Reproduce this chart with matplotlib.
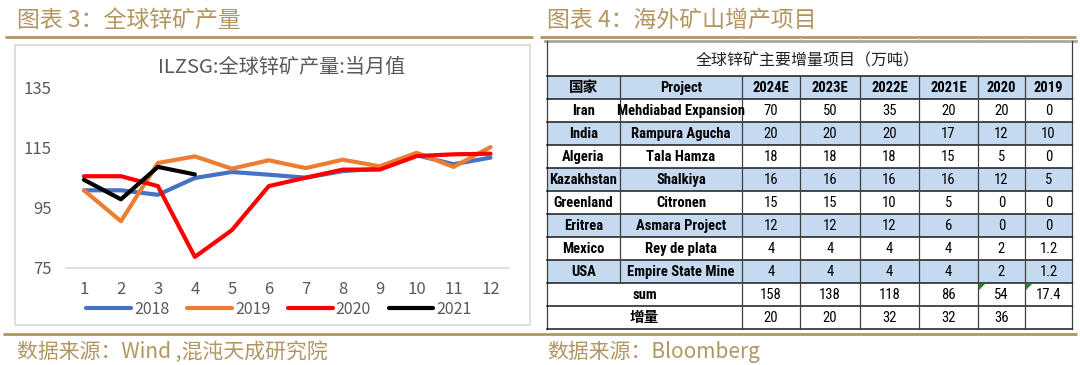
import matplotlib
matplotlib.use('Agg')
import matplotlib.pyplot as plt
from matplotlib import font_manager
from matplotlib.patches import Rectangle, Polygon

plt.rcParams['font.family'] = ['Noto Sans CJK SC', 'DejaVu Sans']

# ---------------- data: left chart ----------------
months = [1, 2, 3, 4, 5, 6, 7, 8, 9, 10, 11, 12]
months_2021 = [1, 2, 3, 4]
prod_2018 = [100.9, 100.9, 99.4, 105.0, 107.0, 106.1, 105.1, 107.3, 108.1, 112.6, 109.6, 111.8]
prod_2019 = [100.9, 90.6, 110.0, 112.2, 108.1, 110.9, 108.3, 111.1, 108.9, 113.4, 108.7, 115.3]
prod_2020 = [105.6, 105.6, 102.3, 78.7, 87.6, 102.3, 105.1, 107.8, 107.8, 112.3, 112.9, 113.1]
prod_2021 = [104.4, 97.9, 108.7, 106.2]
series_labels = ['2018', '2019', '2020', '2021']
y_ticks = [75, 95, 115, 135]
chart_title = 'ILZSG:全球锌矿产量:当月值'

# ---------------- data: right table ----------------
table_title = '全球锌矿主要增量项目（万吨）'
head_country = '国家'
head_project = 'Project'
year_cols = ['2024E', '2023E', '2022E', '2021E', '2020', '2019']
countries = ['Iran', 'India', 'Algeria', 'Kazakhstan', 'Greenland', 'Eritrea', 'Mexico', 'USA']
projects = ['Mehdiabad Expansion', 'Rampura Agucha', 'Tala Hamza', 'Shalkiya',
            'Citronen', 'Asmara Project', 'Rey de plata', 'Empire State Mine']
val_2024E = [70, 20, 18, 16, 15, 12, 4, 4]
val_2023E = [50, 20, 18, 16, 15, 12, 4, 4]
val_2022E = [35, 20, 18, 16, 10, 12, 4, 4]
val_2021E = [20, 17, 15, 16, 5, 6, 4, 4]
val_2020 = [20, 12, 5, 12, 0, 0, 2, 2]
val_2019 = [0, 10, 0, 5, 0, 0, 1.2, 1.2]
sum_label = 'sum'
sum_row = [158, 138, 118, 86, 54, 17.4]
inc_label = '增量'
inc_row = [20, 20, 32, 32, 36, None]

# ---------------- narrow font for the table ----------------
available = {f.name for f in font_manager.fontManager.ttflist}
narrow = None
for cand in ['Liberation Sans Narrow', 'Roboto Condensed', 'Open Sans Condensed',
             'DejaVu Sans Condensed', 'Arial Narrow', 'Noto Sans Condensed']:
    if cand in available:
        narrow = cand
        break
if narrow is not None:
    tfont = [narrow, 'Noto Sans CJK SC', 'DejaVu Sans']
    tsize = 10.5
else:
    tfont = ['Roboto', 'Noto Sans CJK SC', 'DejaVu Sans']
    tsize = 8.6

# ---------------- figure ----------------
W, H = 1080, 365
fig = plt.figure(figsize=(W / 100, H / 100), dpi=100)
bg = fig.add_axes([0, 0, 1, 1], zorder=0)
bg.set_xlim(0, W)
bg.set_ylim(H, 0)
bg.axis('off')

gold = '#b39562'
gray_txt = '#595959'

# headers / golden rules
bg.text(17, 20, '图表 3：全球锌矿产量', fontsize=16.5, color=gold, va='center', ha='left')
bg.text(547, 20, '图表 4：海外矿山增产项目', fontsize=16.5, color=gold, va='center', ha='left')
bg.plot([5, 533], [36.5, 36.5], color=gold, lw=2, solid_capstyle='butt')
bg.plot([540, 1076], [36.5, 36.5], color=gold, lw=2, solid_capstyle='butt')
bg.plot([3, 1077], [334, 334], color=gold, lw=2, solid_capstyle='butt')
bg.text(17, 352, '数据来源：Wind ,混沌天成研究院', fontsize=15, color=gold, va='center', ha='left')
bg.text(547, 352, '数据来源：Bloomberg', fontsize=15, color=gold, va='center', ha='left')

# chart frame
bg.add_patch(Rectangle((15, 45), 515, 280, fill=False, ec='#d9d9d9', lw=1.2))

# ---------------- line chart ----------------
ax = fig.add_axes([65.5 / W, 1 - 268 / H, 443.5 / W, 180 / H], zorder=2)
ax.set_facecolor('none')
colors = ['#4472c4', '#ed7d31', '#ff0000', '#000000']
series = [(months, prod_2018), (months, prod_2019), (months, prod_2020), (months_2021, prod_2021)]
handles = []
for (xs, ys), c, lab in zip(series, colors, series_labels):
    ln, = ax.plot(xs, ys, color=c, lw=3, label=lab,
                  solid_joinstyle='round', solid_capstyle='round')
    handles.append(ln)
ax.set_xlim(0.5, 12.5)
ax.set_ylim(75, 135)
ax.set_xticks(months)
ax.set_xticklabels([str(m) for m in months])
ax.set_yticks(y_ticks)
for s in ['top', 'right', 'left']:
    ax.spines[s].set_visible(False)
ax.spines['bottom'].set_color('#d9d9d9')
ax.spines['bottom'].set_linewidth(1.2)
ax.tick_params(axis='both', length=0, labelsize=12, colors=gray_txt)
ax.tick_params(axis='y', pad=10)
ax.tick_params(axis='x', pad=9)

fig.text(282 / W, 1 - 67 / H, chart_title, ha='center', va='center', fontsize=14.5, color=gray_txt)
fig.legend(handles, series_labels, loc='center', bbox_to_anchor=(279 / W, 1 - 309 / H),
           ncol=4, frameon=False, handlelength=2.8, handletextpad=0.2, columnspacing=1.1,
           fontsize=11.5, labelcolor=gray_txt)

# ---------------- table ----------------
x0 = 547
col_w = [73, 122, 58, 60, 59, 59, 47, 47]
edges = [x0]
for w_ in col_w:
    edges.append(edges[-1] + w_)
title_top = 41
head_top = 76
row_h = 23
blue = '#c5d9f1'

value_cols = [val_2024E, val_2023E, val_2022E, val_2021E, val_2020, val_2019]
n_data = len(countries)
n_rows = 1 + n_data + 2
row_tops = [head_top + i * row_h for i in range(n_rows + 1)]
table_bottom = row_tops[-1]


def fmt(v):
    if v is None:
        return ''
    return '{:g}'.format(v)


# fills
fills = [blue] + [('white' if i % 2 == 0 else blue) for i in range(n_data)] + ['white', 'white']
for i, fc in enumerate(fills):
    bg.add_patch(Rectangle((edges[0], row_tops[i]), edges[-1] - edges[0], row_h,
                           facecolor=fc, edgecolor='none', zorder=1))

# title cell
bg.plot([545, 1076], [title_top, title_top], color='#a6a6a6', lw=2, zorder=3)
for xe in edges[2:-1]:
    bg.plot([xe, xe], [37.5, title_top], color='#d0d0d0', lw=0.8, zorder=2)
bg.plot([edges[0], edges[0]], [title_top, table_bottom], color='#404040', lw=0.9, zorder=3)
bg.plot([edges[-1], edges[-1]], [title_top, table_bottom], color='#404040', lw=0.9, zorder=3)
bg.text((edges[0] + edges[-1]) / 2 - 2, (title_top + head_top) / 2 + 2, table_title,
        ha='center', va='center', fontsize=11.5, color='#222222', zorder=4)

# horizontal rules
for yy in row_tops:
    bg.plot([edges[0], edges[-1]], [yy, yy], color='#1a1a1a', lw=1.1, zorder=3)
# vertical rules
for j, xe in enumerate(edges[1:-1], start=1):
    if j == 1:
        bg.plot([xe, xe], [row_tops[0], row_tops[1 + n_data]], color='#404040', lw=0.9, zorder=3)
    else:
        bg.plot([xe, xe], [row_tops[0], table_bottom], color='#404040', lw=0.9, zorder=3)

centers = [(edges[k] + edges[k + 1]) / 2 for k in range(len(col_w))]


def cell_text(col, row, s, bold=False, xc=None):
    yc = (row_tops[row] + row_tops[row + 1]) / 2
    bg.text(centers[col] if xc is None else xc, yc + 0.5, s, ha='center', va='center',
            fontsize=tsize, family=tfont, fontweight='bold' if bold else 'normal',
            color='black', zorder=4)


# header row
cell_text(0, 0, head_country, bold=True)
cell_text(1, 0, head_project, bold=True)
for k, yc_ in enumerate(year_cols):
    cell_text(2 + k, 0, yc_, bold=True)

for i in range(n_data):
    cell_text(0, 1 + i, countries[i], bold=True)
    cell_text(1, 1 + i, projects[i], bold=True)
    for k, col in enumerate(value_cols):
        cell_text(2 + k, 1 + i, fmt(col[i]))

merged_x = (edges[0] + edges[2]) / 2
r_sum = 1 + n_data
r_inc = 2 + n_data
cell_text(0, r_sum, sum_label, bold=True, xc=merged_x)
cell_text(0, r_inc, inc_label, bold=True, xc=merged_x)
for k in range(len(year_cols)):
    cell_text(2 + k, r_sum, fmt(sum_row[k]))
    cell_text(2 + k, r_inc, fmt(inc_row[k]))

# green error-indicator triangles on two sum cells
for k in [6, 7]:
    xl, yt = edges[k] + 1, row_tops[r_sum] + 1
    bg.add_patch(Polygon([(xl, yt), (xl + 6, yt), (xl, yt + 6)], closed=True,
                         facecolor='#1e8c1e', edgecolor='none', zorder=5))

fig.savefig('out.png', dpi=100)
